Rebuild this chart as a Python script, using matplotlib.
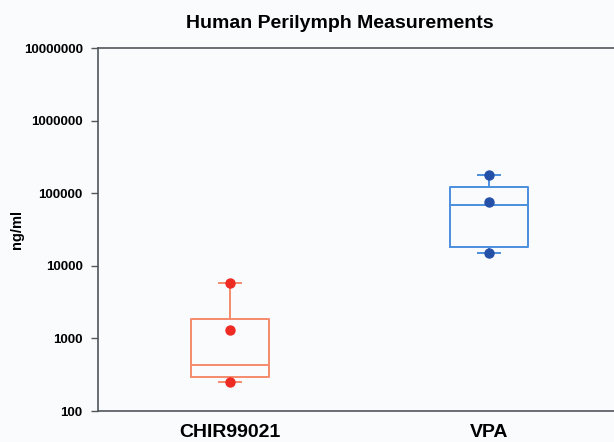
import numpy as np
import matplotlib.pyplot as plt
from matplotlib.ticker import FixedLocator, FixedFormatter

plt.rcParams['font.family'] = ['Liberation Sans', 'DejaVu Sans']

# -- data --
groups = ["CHIR99021", "VPA"]
chir_points = [5800, 1300, 250]
vpa_points = [180000, 76000, 15000]

# box summary (whislo, q1, median, q3, whishi)
chir_box = [250, 295, 430, 1850, 5800]
vpa_box = [15000, 18200, 69000, 121000, 180000]

box_colors = ["#F58A6E", "#4C8FDD"]
dot_colors = ["#EE2B22", "#2450A8"]

yticks = [100, 1000, 10000, 100000, 1000000, 10000000]

fig = plt.figure(figsize=(6.14, 4.42), dpi=100, facecolor="#FAFBFD")
ax = fig.add_axes([0.1596, 0.070, 0.8404, 0.821])
ax.set_facecolor("#FAFBFD")

stats = []
for name, b in zip(groups, [chir_box, vpa_box]):
    stats.append(dict(label=name, whislo=b[0], q1=b[1], med=b[2], q3=b[3], whishi=b[4]))

positions = [1, 2]
for i, st in enumerate(stats):
    c = box_colors[i]
    ax.bxp([st], positions=[positions[i]], widths=0.30, showfliers=False,
           capwidths=0.085,
           boxprops=dict(color=c, linewidth=1.4),
           medianprops=dict(color=c, linewidth=1.4),
           whiskerprops=dict(color=c, linewidth=1.4),
           capprops=dict(color=c, linewidth=1.4))

for i, pts in enumerate([chir_points, vpa_points]):
    ax.scatter([positions[i]] * len(pts), pts, s=42, color=dot_colors[i], zorder=3)

ax.set_yscale("log")
ax.set_ylim(100, 10000000)
ax.set_xlim(0.493, 2.481)
ax.yaxis.set_major_locator(FixedLocator(yticks))
ax.yaxis.set_major_formatter(FixedFormatter([str(t) for t in yticks]))
ax.yaxis.set_minor_locator(FixedLocator([]))
ax.set_xticks(positions)
ax.set_xticklabels(groups, fontsize=14, fontweight="bold")
ax.tick_params(axis="x", length=0, pad=9)
ax.tick_params(axis="y", length=5, labelsize=9.5, width=1, pad=6, color="#555555")
for lab in ax.get_yticklabels():
    lab.set_fontweight("bold")

ax.spines["right"].set_visible(False)
for s in ["left", "top", "bottom"]:
    ax.spines[s].set_color("#50565E")
    ax.spines[s].set_linewidth(1.2)

ax.set_ylabel("ng/ml", fontsize=10.5, fontweight="bold")
ax.yaxis.set_label_coords(-0.143, 0.5)
fig.text(340 / 614, 1 - 23 / 442, "Human Perilymph Measurements",
         fontsize=14, fontweight="bold", ha="center", va="center")

fig.savefig("out.png", dpi=100, facecolor=fig.get_facecolor())
